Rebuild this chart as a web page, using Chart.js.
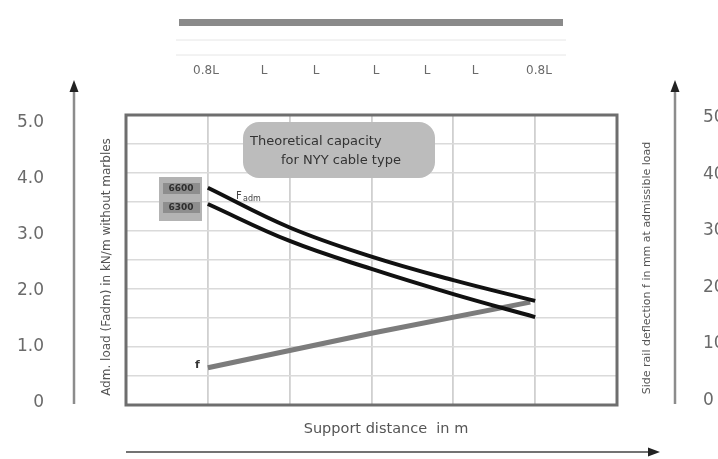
<!DOCTYPE html>
<html>
<head>
<meta charset="utf-8">
<script src="https://cdn.jsdelivr.net/npm/chart.js@4/dist/chart.umd.min.js"></script>
<style>
  html, body { margin: 0; padding: 0; background: #fff; }
  #wrap { width: 718px; height: 459px; }
</style>
</head>
<body>
<div id="wrap"><canvas id="chart" width="718" height="459"></canvas></div>
<script>
// support distance positions (grid columns) and read-off values
const supportDistance = [1, 2, 3, 4, 5];
const load6600 = [3.83, 3.12, 2.60, 2.18, 1.81];
const load6300 = [3.54, 2.88, 2.38, 1.93, 1.52];
const deflectionX = [1, 3, 4.94];
const deflectionMm = [5.8, 11.9, 17.4];

const loadTicks = [0, 1, 2, 3, 4, 5];
const loadTickLabels = ['0', '1.0', '2.0', '3.0', '4.0', '5.0'];
const mmTicks = [0, 10, 20, 30, 40, 50];
const mmTickLabels = ['0', '10', '20', '30', '40', '50'];
const spanLabels = ['0.8L', 'L', 'L', 'L', 'L', 'L', '0.8L'];
const spanLabelX = [206, 264, 316, 376, 427, 475, 539];
const seriesNames = ['6600', '6300'];

const FONT = '"DejaVu Sans", "Noto Sans", sans-serif';

function toPoints(xs, ys) {
    return xs.map((x, i) => ({ x: x, y: ys[i] }));
}

function arrowHead(ctx, x, y, dir) {
    ctx.beginPath();
    if (dir === 'up') {
        ctx.moveTo(x, y); ctx.lineTo(x - 4.5, y + 12); ctx.lineTo(x + 4.5, y + 12);
    } else {
        ctx.moveTo(x, y); ctx.lineTo(x - 12, y - 4.5); ctx.lineTo(x - 12, y + 4.5);
    }
    ctx.closePath();
    ctx.fill();
}

// fixed axis sizes so the plot box lands where it is in the picture
function fixWidth(w) {
    return (axis) => {
        axis.width = w;
        axis.paddingTop = 0;
        axis.paddingBottom = 0;
    };
}

const decorations = {
    id: 'decorations',
    beforeDatasetsDraw(chart) {
        const { ctx, chartArea: a } = chart;
        ctx.save();
        ctx.strokeStyle = '#6e6e6e';
        ctx.lineWidth = 3;
        ctx.strokeRect(a.left, a.top, a.right - a.left, a.bottom - a.top);
        ctx.restore();
    },
    afterDraw(chart) {
        const { ctx } = chart;
        ctx.save();

        // top span bar
        ctx.fillStyle = '#8a8a8a';
        ctx.fillRect(179, 19, 384, 7);
        ctx.strokeStyle = '#e6e6e6';
        ctx.lineWidth = 1;
        ctx.beginPath();
        ctx.moveTo(176, 40); ctx.lineTo(566, 40);
        ctx.moveTo(176, 55); ctx.lineTo(566, 55);
        ctx.stroke();
        ctx.fillStyle = '#6a6a6a';
        ctx.font = '12px ' + FONT;
        ctx.textAlign = 'center';
        ctx.textBaseline = 'middle';
        spanLabels.forEach((t, i) => ctx.fillText(t, spanLabelX[i], 71));

        // axis arrows
        ctx.strokeStyle = '#8c8c8c';
        ctx.lineWidth = 2.5;
        ctx.beginPath();
        ctx.moveTo(74, 404); ctx.lineTo(74, 90);
        ctx.moveTo(675, 404); ctx.lineTo(675, 90);
        ctx.stroke();
        ctx.strokeStyle = '#444';
        ctx.lineWidth = 1.5;
        ctx.beginPath();
        ctx.moveTo(126, 452); ctx.lineTo(650, 452);
        ctx.stroke();
        ctx.fillStyle = '#222';
        arrowHead(ctx, 74, 80, 'up');
        arrowHead(ctx, 675, 80, 'up');
        arrowHead(ctx, 660, 452, 'right');

        // axis titles
        ctx.fillStyle = '#555';
        ctx.font = '12px ' + FONT;
        ctx.save();
        ctx.translate(107, 267);
        ctx.rotate(-Math.PI / 2);
        ctx.fillText('Adm. load (Fadm) in kN/m without marbles', 0, 0);
        ctx.restore();
        ctx.save();
        ctx.font = '11px ' + FONT;
        ctx.translate(647, 268);
        ctx.rotate(-Math.PI / 2);
        ctx.fillText('Side rail deflection f in mm at admissible load', 0, 0);
        ctx.restore();
        ctx.font = '14.5px ' + FONT;
        ctx.fillText('Support distance  in m', 386, 429);

        // title box
        ctx.fillStyle = '#bcbcbc';
        ctx.beginPath();
        ctx.roundRect(243, 122, 192, 56, 16);
        ctx.fill();
        ctx.fillStyle = '#333';
        ctx.font = '13px ' + FONT;
        ctx.textAlign = 'left';
        ctx.fillText('Theoretical capacity', 250, 142);
        ctx.fillText('for NYY cable type', 281, 161);

        // series labels
        ctx.fillStyle = '#b3b3b3';
        ctx.fillRect(159, 177, 43, 44);
        ctx.fillStyle = '#8e8e8e';
        ctx.fillRect(163, 183, 37, 11);
        ctx.fillRect(163, 202, 37, 11);
        ctx.fillStyle = '#2e2e2e';
        ctx.font = 'bold 9px ' + FONT;
        ctx.textAlign = 'center';
        ctx.fillText(seriesNames[0], 181, 189);
        ctx.fillText(seriesNames[1], 181, 208);

        // Fadm and f labels
        ctx.fillStyle = '#444';
        ctx.textAlign = 'left';
        ctx.font = '10px ' + FONT;
        ctx.fillText('F', 236, 196);
        ctx.font = '8px ' + FONT;
        ctx.fillText('adm', 243, 199);
        ctx.font = 'bold 11px ' + FONT;
        ctx.fillStyle = '#333';
        ctx.fillText('f', 195, 365);

        ctx.restore();
    }
};

new Chart(document.getElementById('chart'), {
    type: 'line',
    data: {
        datasets: [
            {
                data: toPoints(supportDistance, load6600),
                borderColor: '#111',
                borderWidth: 4,
                pointRadius: 0,
                tension: 0.4,
                yAxisID: 'y'
            },
            {
                data: toPoints(supportDistance, load6300),
                borderColor: '#111',
                borderWidth: 4,
                pointRadius: 0,
                tension: 0.4,
                yAxisID: 'y'
            },
            {
                data: toPoints(deflectionX, deflectionMm),
                borderColor: '#7c7c7c',
                borderWidth: 5,
                pointRadius: 0,
                tension: 0,
                yAxisID: 'y2'
            }
        ]
    },
    options: {
        responsive: false,
        animation: false,
        devicePixelRatio: 1,
        layout: { padding: { top: 115, left: 0, right: 0, bottom: 54 } },
        plugins: { legend: { display: false }, tooltip: { enabled: false } },
        scales: {
            x: {
                type: 'linear',
                min: 0,
                max: 6,
                ticks: { stepSize: 1, display: false },
                grid: { color: '#d0d0d0', lineWidth: 1.8, drawTicks: false },
                border: { display: false },
                afterFit: (axis) => { axis.height = 0; }
            },
            y: {
                position: 'left',
                min: -0.05,
                max: 5.13,
                afterBuildTicks: (axis) => { axis.ticks = loadTicks.map(v => ({ value: v })); },
                ticks: {
                    padding: 74,
                    color: '#6a6a6a',
                    font: { family: FONT, size: 17 },
                    callback: (v) => loadTickLabels[loadTicks.indexOf(v)]
                },
                grid: { display: false },
                border: { display: false },
                afterFit: fixWidth(126)
            },
            g: {
                position: 'right',
                min: 0,
                max: 10,
                ticks: { stepSize: 1, display: false },
                grid: { color: '#dadada', lineWidth: 1.4, drawTicks: false },
                border: { display: false },
                afterFit: fixWidth(0)
            },
            y2: {
                position: 'right',
                min: -0.8,
                max: 50.5,
                afterBuildTicks: (axis) => { axis.ticks = mmTicks.map(v => ({ value: v })); },
                ticks: {
                    padding: 78,
                    color: '#6a6a6a',
                    font: { family: FONT, size: 17 },
                    callback: (v) => mmTickLabels[mmTicks.indexOf(v)]
                },
                grid: { display: false },
                border: { display: false },
                afterFit: fixWidth(101)
            }
        }
    },
    plugins: [decorations]
});
</script>
</body>
</html>
